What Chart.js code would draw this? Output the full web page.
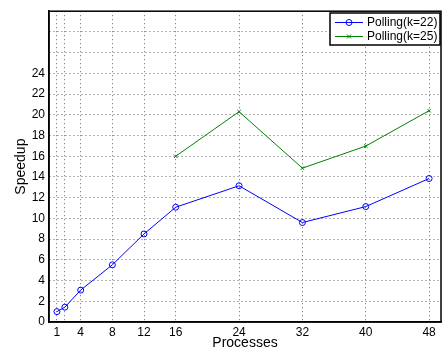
<!DOCTYPE html>
<html>
<head>
<meta charset="utf-8">
<script src="https://cdn.jsdelivr.net/npm/chart.js@4"></script>
<style>
  body { margin: 0; background: #fff; }
  canvas { display: block; }
</style>
</head>
<body>
<canvas id="grafico" width="446" height="353"></canvas>
<script>
const procesos = [1, 2, 4, 8, 12, 16, 24, 32, 40, 48];
const speedupK22 = [1.0, 1.43, 3.08, 5.52, 8.5, 11.08, 13.15, 9.6, 11.14, 13.85];
const procesosK25 = [16, 24, 32, 40, 48];
const speedupK25 = [16.0, 20.3, 14.85, 16.98, 20.4];
const ticksX = [1, 2, 4, 8, 12, 16, 24, 32, 40, 48];
const etiquetasOcultasX = [2];
const maxEtiquetaY = 24;

const fuente = 'Liberation Sans, Arial, Helvetica, sans-serif';

// marco negro alrededor del area del grafico
const marco = {
    id: 'marco',
    afterDraw(chart) {
        const { ctx, chartArea: a } = chart;
        ctx.save();
        ctx.strokeStyle = '#000';
        ctx.lineWidth = 1.5;
        ctx.strokeRect(a.left, a.top, a.right - a.left, a.bottom - a.top);
        ctx.restore();
    }
};

// leyenda estilo matlab con borde
const leyenda = {
    id: 'leyenda',
    afterDraw(chart) {
        const ctx = chart.ctx;
        const x = 330, y = 13, w = 110, h = 32;
        ctx.save();
        ctx.fillStyle = '#fff';
        ctx.fillRect(x, y, w, h);
        ctx.strokeStyle = '#000';
        ctx.lineWidth = 1.5;
        ctx.strokeRect(x, y, w, h);
        ctx.font = '12px ' + fuente;
        ctx.textBaseline = 'middle';
        chart.data.datasets.forEach((ds, i) => {
            const cy = y + 9.5 + i * 14;
            ctx.strokeStyle = ds.borderColor;
            ctx.lineWidth = 1;
            ctx.beginPath();
            ctx.moveTo(x + 5, cy);
            ctx.lineTo(x + 33, cy);
            ctx.stroke();
            const mx = x + 19;
            ctx.beginPath();
            if (ds.pointStyle === 'circle') {
                ctx.arc(mx, cy, 3, 0, Math.PI * 2);
            } else {
                ctx.moveTo(mx - 2, cy - 2); ctx.lineTo(mx + 2, cy + 2);
                ctx.moveTo(mx + 2, cy - 2); ctx.lineTo(mx - 2, cy + 2);
            }
            ctx.stroke();
            ctx.fillStyle = '#000';
            ctx.fillText(ds.label, x + 37, cy + 0.5);
        });
        ctx.restore();
    }
};

new Chart(document.getElementById('grafico'), {
    type: 'line',
    data: {
        datasets: [
            {
                label: 'Polling(k=22)',
                data: procesos.map((p, i) => ({ x: p, y: speedupK22[i] })),
                borderColor: '#0000ff',
                borderWidth: 1,
                pointStyle: 'circle',
                pointRadius: 3,
                pointBorderWidth: 1,
                pointBorderColor: '#0000ff',
                pointBackgroundColor: 'rgba(0,0,0,0)'
            },
            {
                label: 'Polling(k=25)',
                data: procesosK25.map((p, i) => ({ x: p, y: speedupK25[i] })),
                borderColor: '#008000',
                borderWidth: 1,
                pointStyle: 'crossRot',
                pointRadius: 2.5,
                pointBorderWidth: 1,
                pointBorderColor: '#008000'
            }
        ]
    },
    options: {
        responsive: false,
        animation: false,
        layout: { padding: { top: 6, right: 1, left: 0, bottom: 0 } },
        plugins: {
            legend: { display: false },
            tooltip: { enabled: false }
        },
        scales: {
            x: {
                type: 'linear',
                min: 0,
                max: 49.5,
                afterBuildTicks: scale => {
                    scale.ticks = ticksX.map(v => ({ value: v }));
                },
                afterFit: scale => { scale.height = 31; },
                ticks: {
                    autoSkip: false,
                    maxRotation: 0,
                    padding: 3,
                    color: '#000',
                    font: { size: 12, family: fuente },
                    callback: v => etiquetasOcultasX.includes(v) ? '' : v
                },
                grid: {
                    color: '#666',
                    lineWidth: 1,
                    drawTicks: false,
                    borderDash: [1, 3]
                },
                border: { color: '#000', width: 1.5, dash: [1, 3] },
                title: {
                    display: true,
                    text: 'Processes',
                    color: '#000',
                    font: { size: 14, family: fuente },
                    padding: { top: 0, bottom: 1 }
                }
            },
            y: {
                min: 0,
                max: 30,
                afterFit: scale => { scale.width = 49; },
                ticks: {
                    stepSize: 2,
                    padding: 4,
                    color: '#000',
                    font: { size: 12, family: fuente },
                    callback: v => v > maxEtiquetaY ? '' : v
                },
                grid: {
                    color: '#666',
                    lineWidth: 1,
                    drawTicks: false,
                    borderDash: [1, 3]
                },
                border: { color: '#000', width: 1.5, dash: [1, 3] },
                title: {
                    display: true,
                    text: 'Speedup',
                    color: '#000',
                    font: { size: 14, family: fuente },
                    padding: { top: 13, bottom: 0 }
                }
            }
        }
    },
    plugins: [marco, leyenda]
});
</script>
</body>
</html>
